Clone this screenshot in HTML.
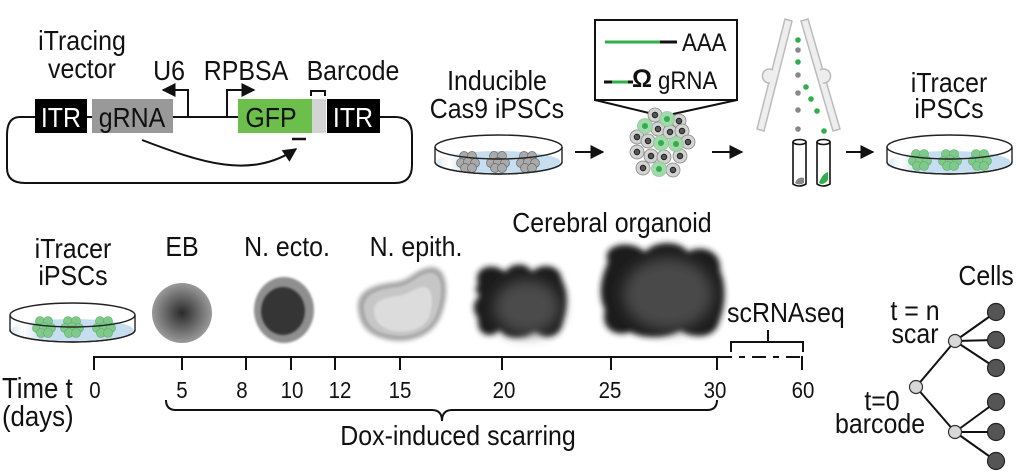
<!DOCTYPE html>
<html><head><meta charset="utf-8"><style>
html,body{margin:0;padding:0;background:#fff;}
svg{display:block;}
text{font-family:"Liberation Sans",Arial,sans-serif;fill:#111;}
</style></head><body>
<svg width="1024" height="476" viewBox="0 0 1024 476" xmlns="http://www.w3.org/2000/svg">
<defs>
<marker id="ah" viewBox="0 0 10 10" refX="9" refY="5" markerWidth="7" markerHeight="7" orient="auto"><path d="M0,0 L10,5 L0,10 z" fill="#111"/></marker>
<filter id="b2" x="-20%" y="-20%" width="140%" height="140%"><feGaussianBlur stdDeviation="2"/></filter>
<filter id="b3" x="-30%" y="-30%" width="160%" height="160%"><feGaussianBlur stdDeviation="3"/></filter>
<filter id="b7" x="-30%" y="-30%" width="160%" height="160%"><feGaussianBlur stdDeviation="7"/></filter>
<filter id="b1"><feGaussianBlur stdDeviation="1"/></filter>
<radialGradient id="eb" cx="50%" cy="50%" r="50%"><stop offset="0" stop-color="#2a2a2a"/><stop offset="1" stop-color="#9a9a9a"/></radialGradient>
<linearGradient id="liq" x1="0" x2="1"><stop offset="0" stop-color="#d8e9f5"/><stop offset="0.1" stop-color="#fff"/><stop offset="0.25" stop-color="#c6def0"/><stop offset="1" stop-color="#c6def0"/></linearGradient>
<g id="gclus">
<circle cx="-4" cy="-4" r="4.5" fill="#7fc98a" stroke="#5aa965" stroke-width="0.6"/><circle cx="4" cy="-4" r="4.5" fill="#7fc98a" stroke="#5aa965" stroke-width="0.6"/>
<circle cx="-7" cy="3" r="4.5" fill="#7fc98a" stroke="#5aa965" stroke-width="0.6"/><circle cx="0" cy="2" r="4.5" fill="#7fc98a" stroke="#5aa965" stroke-width="0.6"/><circle cx="7" cy="3" r="4.5" fill="#7fc98a" stroke="#5aa965" stroke-width="0.6"/>
<circle cx="-3" cy="8" r="4.5" fill="#7fc98a" stroke="#5aa965" stroke-width="0.6"/><circle cx="4" cy="8" r="4.5" fill="#7fc98a" stroke="#5aa965" stroke-width="0.6"/>
</g>
<g id="yclus">
<circle cx="-4" cy="-4" r="4.5" fill="#aaa" stroke="#666" stroke-width="0.7"/><circle cx="4" cy="-4" r="4.5" fill="#aaa" stroke="#666" stroke-width="0.7"/>
<circle cx="-7" cy="3" r="4.5" fill="#aaa" stroke="#666" stroke-width="0.7"/><circle cx="0" cy="2" r="4.5" fill="#aaa" stroke="#666" stroke-width="0.7"/><circle cx="7" cy="3" r="4.5" fill="#aaa" stroke="#666" stroke-width="0.7"/>
<circle cx="-3" cy="8" r="4.5" fill="#aaa" stroke="#666" stroke-width="0.7"/><circle cx="4" cy="8" r="4.5" fill="#aaa" stroke="#666" stroke-width="0.7"/>
</g>
</defs>

<!-- ===== Vector ===== -->
<path d="M35,117 L20,117 Q7,117 7,135 L7,168 Q7,183 25,183 L395,183 Q412,183 412,165 L412,135 Q412,117 395,117 L380,117" fill="none" stroke="#111" stroke-width="2"/>
<line x1="87" y1="117" x2="92" y2="117" stroke="#111" stroke-width="2"/>
<line x1="173" y1="117" x2="238" y2="117" stroke="#111" stroke-width="2"/>
<polyline points="188,117 188,90 163,90" fill="none" stroke="#111" stroke-width="2" marker-end="url(#ah)"/>
<polyline points="227,117 227,90 254,90" fill="none" stroke="#111" stroke-width="2" marker-end="url(#ah)"/>
<rect x="35" y="99" width="52" height="34" fill="#000"/>
<rect x="92" y="99" width="81" height="34" fill="#999"/>
<rect x="238" y="99" width="74" height="34" fill="#6cbf4a"/>
<rect x="312" y="99" width="14" height="34" fill="#d4d4d4"/>
<rect x="327" y="99" width="53" height="34" fill="#000"/>
<polyline points="311,96 311,91 325,91 325,96" fill="none" stroke="#111" stroke-width="2"/>
<line x1="292" y1="139" x2="306" y2="139" stroke="#111" stroke-width="2.5"/>
<path d="M142,140 C200,162 250,180 296,149" fill="none" stroke="#111" stroke-width="2" marker-end="url(#ah)"/>

<!-- ===== Dish 1 ===== -->
<g>
<path d="M435,147 L435,162 A63.5,12 0 0 0 562,162 L562,147" fill="#fff" stroke="#222" stroke-width="1.4"/>
<ellipse cx="498.5" cy="162" rx="62" ry="11" fill="url(#liq)"/>
<use href="#yclus" x="468" y="160"/><use href="#yclus" x="498" y="160"/><use href="#yclus" x="528" y="160"/>
<ellipse cx="498.5" cy="147" rx="63.5" ry="12" fill="none" stroke="#222" stroke-width="1.4"/>
<path d="M435,162 A63.5,12 0 0 0 562,162" fill="none" stroke="#222" stroke-width="1.4"/>
</g>
<line x1="575" y1="152" x2="603" y2="152" stroke="#111" stroke-width="2" marker-end="url(#ah)"/>

<!-- ===== Box & cluster ===== -->
<rect x="595" y="20" width="142" height="80" fill="#fff" stroke="#111" stroke-width="2"/>
<line x1="605" y1="42" x2="660" y2="42" stroke="#2fae4a" stroke-width="3"/>
<line x1="660" y1="42" x2="677" y2="42" stroke="#111" stroke-width="3"/>
<line x1="604" y1="82" x2="612" y2="82" stroke="#111" stroke-width="3"/>
<line x1="612" y1="82" x2="628" y2="82" stroke="#2fae4a" stroke-width="3"/>
<line x1="628" y1="82" x2="633" y2="82" stroke="#111" stroke-width="3"/>
<line x1="595" y1="100" x2="653" y2="114" stroke="#111" stroke-width="2"/>
<line x1="737" y1="100" x2="673" y2="114" stroke="#111" stroke-width="2"/>
<g stroke-width="0.8">
<g fill="#d3d3d3" stroke="#888">
<circle cx="655" cy="115" r="7"/><circle cx="679" cy="121" r="7"/><circle cx="658" cy="129" r="7"/><circle cx="670" cy="132" r="7"/><circle cx="682" cy="131" r="7"/><circle cx="637" cy="137" r="7"/><circle cx="648" cy="141" r="7"/><circle cx="688" cy="142" r="7"/><circle cx="637" cy="152" r="7"/><circle cx="651" cy="156" r="7"/><circle cx="664" cy="157" r="7"/><circle cx="680" cy="156" r="7"/><circle cx="643" cy="168" r="7"/><circle cx="673" cy="170" r="7"/>
</g>
<g fill="#9fd8a8" stroke="#8cc898" opacity="0.95">
<circle cx="667" cy="119" r="7.5"/><circle cx="645" cy="126" r="7.5"/><circle cx="661" cy="143" r="7.5"/><circle cx="676" cy="144" r="7.5"/><circle cx="659" cy="169" r="7.5"/>
</g>
<g fill="#555" stroke="#111">
<circle cx="655" cy="115" r="2.8"/><circle cx="679" cy="121" r="2.8"/><circle cx="658" cy="129" r="2.8"/><circle cx="670" cy="132" r="2.8"/><circle cx="682" cy="131" r="2.8"/><circle cx="637" cy="137" r="2.8"/><circle cx="648" cy="141" r="2.8"/><circle cx="688" cy="142" r="2.8"/><circle cx="637" cy="152" r="2.8"/><circle cx="651" cy="156" r="2.8"/><circle cx="664" cy="157" r="2.8"/><circle cx="680" cy="156" r="2.8"/><circle cx="643" cy="168" r="2.8"/><circle cx="673" cy="170" r="2.8"/>
</g>
<g fill="#2fae4a" stroke="none">
<circle cx="667" cy="119" r="3"/><circle cx="645" cy="126" r="3"/><circle cx="661" cy="143" r="3"/><circle cx="676" cy="144" r="3"/><circle cx="659" cy="169" r="3"/>
</g>
</g>
<line x1="712" y1="152" x2="742" y2="152" stroke="#111" stroke-width="2" marker-end="url(#ah)"/>

<!-- ===== FACS ===== -->
<g fill="#eee" stroke="#bbb" stroke-width="1.5">
<polygon points="785,19 792,21 764,131 757,129"/>
<polygon points="801,21 808,19 840,129 833,131"/>
<path d="M773,70 a7,7 0 1 0 -3,13" />
<path d="M820,70 a7,7 0 1 1 3,13" />
</g>
<g fill="#888"><circle cx="798" cy="50" r="2.8"/><circle cx="798" cy="75" r="2.8"/><circle cx="798" cy="93" r="2.8"/><circle cx="798" cy="110" r="2.8"/><circle cx="798" cy="129" r="2.8"/></g>
<g fill="#2fae4a"><circle cx="798" cy="40" r="2.8"/><circle cx="798" cy="62" r="2.8"/><circle cx="806" cy="87" r="2.8"/><circle cx="811" cy="99" r="2.8"/><circle cx="817" cy="111" r="2.8"/><circle cx="824" cy="131" r="2.8"/></g>
<g fill="#fff" stroke="#111" stroke-width="1.6">
<path d="M793,142 L793,184 Q799,188 806,184 L806,142"/>
<ellipse cx="799.5" cy="142" rx="6.5" ry="2.5"/>
<path d="M817,142 L817,184 Q823,188 830,184 L830,142"/>
<ellipse cx="823.5" cy="142" rx="6.5" ry="2.5"/>
</g>
<path d="M795,183 Q798,176 804,178 L804,183 Q799,186 795,183Z" fill="#888"/>
<path d="M819,183 Q822,174 828,172 L828,180 Q823,186 819,183Z" fill="#2fae4a"/>
<line x1="846" y1="152" x2="873" y2="152" stroke="#111" stroke-width="2" marker-end="url(#ah)"/>

<!-- ===== Dish 2 ===== -->
<g>
<path d="M887,147 L887,162 A62.5,12 0 0 0 1012,162 L1012,147" fill="#fff" stroke="#222" stroke-width="1.4"/>
<ellipse cx="949.5" cy="162" rx="61" ry="11" fill="url(#liq)"/>
<use href="#gclus" x="920" y="158"/><use href="#gclus" x="950" y="158"/><use href="#gclus" x="980" y="158"/>
<ellipse cx="949.5" cy="147" rx="62.5" ry="12" fill="none" stroke="#222" stroke-width="1.4"/>
<path d="M887,162 A62.5,12 0 0 0 1012,162" fill="none" stroke="#222" stroke-width="1.4"/>
</g>

<!-- ===== Bottom dish ===== -->
<g>
<path d="M10,315 L10,330 A62.5,12 0 0 0 135,330 L135,315" fill="#fff" stroke="#222" stroke-width="1.4"/>
<ellipse cx="72.5" cy="330" rx="61" ry="11" fill="url(#liq)"/>
<use href="#gclus" x="44" y="325"/><use href="#gclus" x="72" y="325"/><use href="#gclus" x="104" y="325"/>
<ellipse cx="72.5" cy="315" rx="62.5" ry="12" fill="none" stroke="#222" stroke-width="1.4"/>
<path d="M10,330 A62.5,12 0 0 0 135,330" fill="none" stroke="#222" stroke-width="1.4"/>
</g>

<!-- ===== Stages ===== -->
<circle cx="182" cy="313" r="30" fill="url(#eb)"/>
<ellipse cx="284" cy="310" rx="30" ry="33" fill="#8f8f8f" filter="url(#b1)"/>
<ellipse cx="283" cy="311" rx="22" ry="24" fill="#353535" filter="url(#b1)"/>

<path d="M358,310 C355,290 375,284 395,282 C412,280 416,267 433,267 C449,269 449,296 441,316 C433,336 410,344 389,340 C369,336 360,327 358,310Z" fill="#a8a8a8" filter="url(#b2)"/>
<path d="M364,310 C362,294 379,289 397,287 C413,285 417,273 432,273 C444,275 443,297 436,315 C429,332 410,338 391,335 C373,332 366,324 364,310Z" fill="#c6c6c6" filter="url(#b1)"/>
<path d="M374,312 C373,300 386,297 398,296 C411,294 414,287 425,287 C433,289 434,303 429,317 C423,330 408,333 393,331 C381,328 375,322 374,312Z" fill="#dcdcdc" filter="url(#b1)"/>

<path d="M478,285 C472,265 495,262 505,272 C512,262 527,262 532,272 C540,263 560,263 562,280 C570,295 566,312 563,322 C560,340 542,340 535,330 C525,340 505,340 500,330 C490,340 476,335 478,318 C470,308 475,300 480,295 C474,292 475,288 478,285Z" fill="#1c1c1c" filter="url(#b3)"/>
<ellipse cx="527" cy="307" rx="33" ry="27" fill="#4c4c4c" filter="url(#b7)"/>

<path d="M608,262 C600,245 630,238 645,252 C655,240 680,240 688,252 C700,244 722,250 720,270 C728,290 724,310 718,325 C712,340 690,338 680,330 C665,340 640,338 630,332 C615,338 600,328 605,310 C598,295 600,280 608,262Z" fill="#1c1c1c" filter="url(#b3)"/>
<ellipse cx="668" cy="294" rx="45" ry="36" fill="#484848" filter="url(#b7)"/>

<!-- ===== Timeline ===== -->
<line x1="93" y1="357" x2="718" y2="357" stroke="#111" stroke-width="2"/>
<line x1="718" y1="357" x2="803" y2="357" stroke="#111" stroke-width="2" stroke-dasharray="14,7,6,7"/>
<g stroke="#111" stroke-width="2">
<line x1="94" y1="356" x2="94" y2="370"/><line x1="182" y1="356" x2="182" y2="370"/><line x1="246" y1="356" x2="246" y2="370"/><line x1="291" y1="356" x2="291" y2="370"/><line x1="335" y1="356" x2="335" y2="370"/><line x1="400" y1="356" x2="400" y2="370"/><line x1="502" y1="356" x2="502" y2="370"/><line x1="611" y1="356" x2="611" y2="370"/><line x1="717" y1="356" x2="717" y2="370"/><line x1="802" y1="356" x2="802" y2="370"/>
</g>
<path d="M166,400 Q166,410 176,410 L432,410 Q442,410 442,421 Q442,410 452,410 L707,410 Q717,410 717,400" fill="none" stroke="#111" stroke-width="2"/>
<polyline points="731,352 731,342 803,342 803,352" fill="none" stroke="#111" stroke-width="2"/>
<line x1="768" y1="342" x2="768" y2="330" stroke="#111" stroke-width="2"/>

<!-- ===== Tree ===== -->
<g stroke="#111" stroke-width="2">
<line x1="916" y1="387" x2="955" y2="341"/><line x1="916" y1="387" x2="955" y2="432"/>
<line x1="955" y1="341" x2="996" y2="312"/><line x1="955" y1="341" x2="996" y2="340"/><line x1="955" y1="341" x2="996" y2="368"/>
<line x1="955" y1="432" x2="996" y2="402"/><line x1="955" y1="432" x2="996" y2="432"/><line x1="955" y1="432" x2="996" y2="461"/>
</g>
<g fill="#555" stroke="#222" stroke-width="1.2">
<circle cx="996" cy="312" r="8.5"/><circle cx="996" cy="340" r="8.5"/><circle cx="996" cy="368" r="8.5"/><circle cx="996" cy="402" r="8.5"/><circle cx="996" cy="432" r="8.5"/><circle cx="996" cy="461" r="8.5"/>
</g>
<g fill="#d8d8d8" stroke="#333" stroke-width="1.2">
<circle cx="955" cy="341" r="6.5"/><circle cx="955" cy="432" r="6.5"/><circle cx="916" cy="387" r="6.5"/>
</g>

<!-- ===== All text (on top) ===== -->
<text x="632" y="87" font-size="25" font-weight="bold">Ω</text>
<g transform="scale(0.89,1)" font-size="28" text-anchor="middle">
<text x="92.1" y="50">iTracing</text>
<text x="92.1" y="78">vector</text>
<text x="189.9" y="80">U6</text>
<text x="276.4" y="80">RPBSA</text>
<text x="396.6" y="80">Barcode</text>
<text x="68.5" y="127" style="fill:#fff">ITR</text>
<text x="148.3" y="127">gRNA</text>
<text x="304.5" y="127">GFP</text>
<text x="396.6" y="127" style="fill:#fff">ITR</text>
<text x="558.4" y="90">Inducible</text>
<text x="558.4" y="118">Cas9 iPSCs</text>
<text x="1066.3" y="92">iTracer</text>
<text x="1066.3" y="118">iPSCs</text>
<text x="82" y="258">iTracer</text>
<text x="82" y="285">iPSCs</text>
<text x="204.5" y="256">EB</text>
<text x="322.5" y="256">N. ecto.</text>
<text x="467.4" y="256">N. epith.</text>
<text x="687.6" y="232">Cerebral organoid</text>
<text x="514.6" y="445">Dox-induced scarring</text>
<text x="816.9" y="322" text-anchor="start">scRNAseq</text>
<text x="1107.9" y="285">Cells</text>
<text x="1028.1" y="320">t = n</text>
<text x="1028.1" y="343">scar</text>
<text x="991" y="410">t=0</text>
<text x="988.8" y="433">barcode</text>
<text x="2.2" y="398" text-anchor="start" font-size="29">Time t</text>
<text x="2.2" y="426" text-anchor="start" font-size="29">(days)</text>
<text x="766.3" y="51" text-anchor="start" font-size="25">AAA</text>
<text x="739.3" y="89" text-anchor="start" font-size="25">gRNA</text>
<g font-size="23">
<text x="106.7" y="398">0</text><text x="204.5" y="398">5</text><text x="271.9" y="398">8</text><text x="328.1" y="398">10</text><text x="382" y="398">12</text><text x="449.4" y="398">15</text><text x="566.3" y="398">20</text><text x="685.4" y="398">25</text><text x="803.4" y="398">30</text><text x="902.2" y="398">60</text>
</g>
</g>
</svg>
</body></html>
